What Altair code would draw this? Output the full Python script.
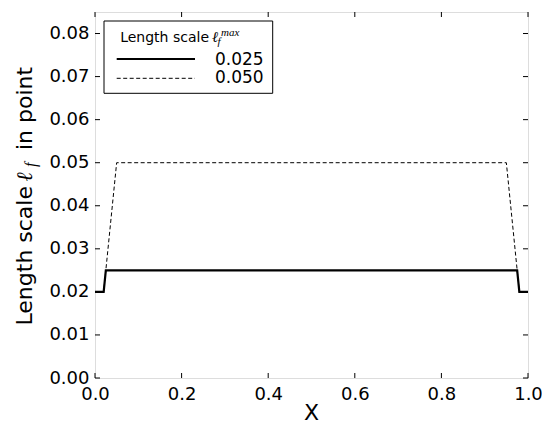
import altair as alt
import pandas as pd

# Data
x_025 = [0.0, 0.02, 0.025, 0.975, 0.98, 1.0]
y_025 = [0.02, 0.02, 0.025, 0.025, 0.02, 0.02]
x_050 = [0.0, 0.02, 0.05, 0.95, 0.98, 1.0]
y_050 = [0.02, 0.02, 0.05, 0.05, 0.02, 0.02]
series_labels = ["0.025", "0.050"]
x_ticks = [0.0, 0.2, 0.4, 0.6, 0.8, 1.0]
y_ticks = [0.00, 0.01, 0.02, 0.03, 0.04, 0.05, 0.06, 0.07, 0.08]

df025 = pd.DataFrame({"x": x_025, "y": y_025, "order": range(len(x_025))})
df050 = pd.DataFrame({"x": x_050, "y": y_050, "order": range(len(x_050))})

W, H = 433, 366
FONT = "DejaVu Sans"
MATH = "Liberation Serif"

xscale = alt.Scale(domain=[0, 1], nice=False, zero=False)
yscale = alt.Scale(domain=[0, 0.085], nice=False, zero=False)

xaxis = alt.Axis(values=x_ticks, format=".1f", title=None, ticks=False,
                 domain=False, grid=False, labelPadding=7, labelFlush=False,
                 labelOverlap=False, labelFontSize=18, labelFont=FONT,
                 labelColor="black")
yaxis = alt.Axis(values=y_ticks, format=".2f", title=None, ticks=False,
                 domain=False, grid=False, labelPadding=6, labelFlush=False,
                 labelOverlap=False, labelFontSize=18, labelFont=FONT,
                 labelColor="black")

dashed = alt.Chart(df050).mark_line(color="black", strokeWidth=1.0,
                                    strokeDash=[4, 2.5]).encode(
    x=alt.X("x:Q", scale=xscale, axis=xaxis),
    y=alt.Y("y:Q", scale=yscale, axis=yaxis),
    order="order:Q",
)
solid = alt.Chart(df025).mark_line(color="black", strokeWidth=2.2).encode(
    x=alt.X("x:Q", scale=xscale),
    y=alt.Y("y:Q", scale=yscale),
    order="order:Q",
)

xt = pd.DataFrame({"t": x_ticks})
yt = pd.DataFrame({"t": y_ticks})
bottom_ticks = alt.Chart(xt).mark_rule(color="black", strokeWidth=1).encode(
    x=alt.X("t:Q", scale=xscale), y=alt.value(H), y2=alt.value(H - 5))
top_ticks = alt.Chart(xt).mark_rule(color="black", strokeWidth=1).encode(
    x=alt.X("t:Q", scale=xscale), y=alt.value(0), y2=alt.value(5))
left_ticks = alt.Chart(yt).mark_rule(color="black", strokeWidth=1).encode(
    y=alt.Y("t:Q", scale=yscale), x=alt.value(0), x2=alt.value(5))
right_ticks = alt.Chart(yt).mark_rule(color="black", strokeWidth=1).encode(
    y=alt.Y("t:Q", scale=yscale), x=alt.value(W), x2=alt.value(W - 5))

one = pd.DataFrame({"a": [0]})


def txt(text, x, y, size, font=FONT, style="normal", align="left", angle=0):
    return alt.Chart(one).mark_text(text=text, font=font, fontSize=size,
                                    fontStyle=style, align=align,
                                    baseline="alphabetic", angle=angle,
                                    color="black").encode(
        x=alt.value(x), y=alt.value(y))


# Axis titles
x_title = txt("X", W / 2, 408, 22, align="center")
TX = -63
yt1 = txt("Length scale", TX, 174, 22, align="right", angle=270)
yt2 = txt("ℓ", TX, 169.5, 22, font=MATH, style="italic", align="left", angle=270)
yt3 = txt("f", TX + 4, 155, 16, font=MATH, style="italic", align="left", angle=270)
yt4 = txt("in point", TX, 138, 22, align="left", angle=270)

# Legend
legend_box = alt.Chart(one).mark_rect(fill="white", stroke="black",
                                      strokeWidth=1).encode(
    x=alt.value(9), x2=alt.value(177.7), y=alt.value(9), y2=alt.value(81.3))
lt1 = txt("Length scale", 114, 29.7, 14, align="right")
lt2 = txt("ℓ", 117, 29.7, 15, font=MATH, style="italic")
lt3 = txt("f", 122.5, 33, 11, font=MATH, style="italic")
lt4 = txt("max", 126, 23.5, 11, font=MATH, style="italic")
sym1 = alt.Chart(one).mark_rule(color="black", strokeWidth=2.2).encode(
    x=alt.value(21.7), x2=alt.value(100), y=alt.value(47))
sym2 = alt.Chart(one).mark_rule(color="black", strokeWidth=1.0,
                                strokeDash=[4, 2.5]).encode(
    x=alt.value(21.7), x2=alt.value(100), y=alt.value(66.3))
lab1 = txt(series_labels[0], 120, 53, 17)
lab2 = txt(series_labels[1], 120, 71.3, 17)

chart = alt.layer(
    dashed, solid, bottom_ticks, top_ticks, left_ticks, right_ticks,
    x_title, yt1, yt2, yt3, yt4,
    legend_box, lt1, lt2, lt3, lt4, sym1, sym2, lab1, lab2,
).properties(
    width=W, height=H,
    autosize=alt.AutoSizeParams(type="none"),
    padding={"left": 87, "top": 4, "right": 14, "bottom": 48},
).configure_view(stroke="black", strokeWidth=1.1).configure(background="white")

chart.save("out.html", embed_options={"renderer": "svg", "actions": False})
